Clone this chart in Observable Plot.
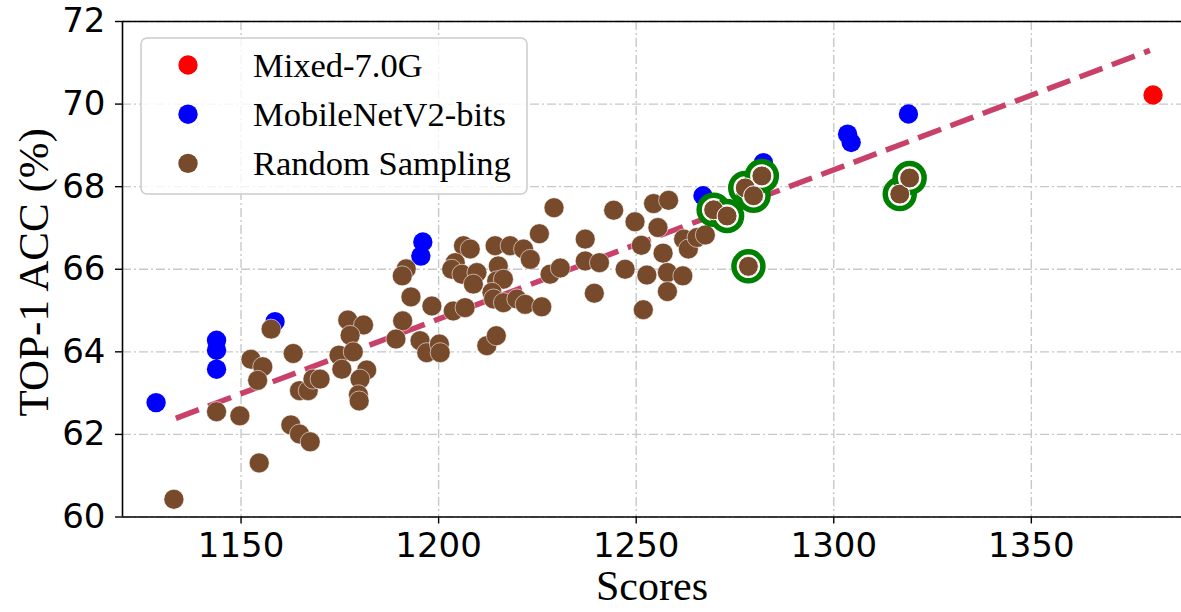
<!DOCTYPE html>
<html><head><meta charset="utf-8">
<script src="https://cdn.jsdelivr.net/npm/d3@7"></script>
<script src="https://cdn.jsdelivr.net/npm/@observablehq/plot@0.6"></script>
<style>body{margin:0;background:#fff} #chart{width:1181px;height:612px;overflow:hidden}</style>
</head><body><div id="chart"></div>
<script>
// ---- data ----
const seriesNames = ["Mixed-7.0G", "MobileNetV2-bits", "Random Sampling"];
const seriesColors = ["#ff0000", "#0000ff", "#784a2c"];

const mixedX = [1380.8];
const mixedY = [70.22];

const mbX = [1128.5, 1143.8, 1143.8, 1143.8, 1158.6, 1196.0, 1195.5, 1266.9, 1282.2, 1303.5, 1304.4, 1318.9];
const mbY = [62.77, 64.28, 64.04, 63.58, 64.73, 66.66, 66.32, 67.78, 68.58, 69.27, 69.07, 69.76];

const randX = [1133.0, 1143.8, 1149.7, 1154.6, 1152.5, 1155.5, 1154.2, 1157.6, 1163.2, 1164.8, 1167.0, 1168.2,
  1162.6, 1164.8, 1167.5, 1170.0, 1174.8, 1175.5, 1177.0, 1181.0, 1177.6, 1178.4, 1181.8, 1180.1, 1179.7, 1179.9,
  1190.9, 1189.2, 1193.0, 1191.8, 1190.8, 1198.3, 1195.3, 1197.0, 1200.2, 1200.4, 1203.7, 1206.7, 1206.3, 1208.0,
  1204.2, 1203.3, 1205.9, 1209.7, 1208.8, 1215.1, 1214.7, 1216.4, 1213.5, 1213.9, 1216.4, 1219.8, 1221.9, 1226.1,
  1214.3, 1218.1, 1221.5, 1223.2, 1225.5, 1229.2, 1228.2, 1230.8, 1212.2, 1214.6, 1244.3, 1254.4, 1258.2, 1249.7,
  1255.5, 1237.1, 1251.3, 1256.8, 1262.0, 1263.2, 1265.4, 1267.5, 1237.1, 1240.7, 1247.2, 1252.7, 1257.9, 1261.8,
  1239.4, 1257.9, 1251.8];
const randY = [60.43, 62.55, 62.45, 61.31, 63.82, 63.64, 63.31, 64.55, 63.96, 63.06, 63.06, 63.34,
  62.23, 62.01, 61.82, 63.34, 63.92, 63.58, 64.77, 64.65, 64.40, 64.00, 63.56, 63.34, 62.96, 62.81,
  64.75, 64.31, 65.33, 66.01, 65.84, 65.11, 64.27, 63.98, 64.19, 63.98, 64.99, 65.07, 66.57, 66.49,
  66.16, 66.00, 65.88, 65.92, 65.64, 66.08, 65.72, 65.76, 65.44, 65.28, 65.19, 65.28, 65.15, 65.09,
  66.57, 66.57, 66.49, 66.24, 66.86, 67.49, 65.88, 66.03, 64.15, 64.39, 67.43, 67.59, 67.67, 67.15,
  67.01, 66.73, 66.58, 66.39, 66.73, 66.49, 66.77, 66.83, 66.20, 66.16, 66.00, 65.86, 65.92, 65.84,
  65.42, 65.46, 65.02];

// highlighted (circled) random-sampling points
const selX = [1269.6, 1273.0, 1277.6, 1279.7, 1281.8, 1278.4, 1316.7, 1319.2];
const selY = [67.44, 67.29, 67.97, 67.78, 68.26, 66.07, 67.82, 68.21];

// dashed trend line end points
const trendX = [1133.5, 1380.0];
const trendY = [62.39, 71.30];

const xTicks = [1150, 1200, 1250, 1300, 1350];
const yTicks = [60, 62, 64, 66, 68, 70, 72];
const xLabel = "Scores";
const yLabel = "TOP-1 ACC (%)";

// ---- chart ----
const serif = "Liberation Serif, Times New Roman, serif";
const gridStyle = {stroke: "#c8c8c8", strokeOpacity: 1, strokeWidth: 1.4, strokeDasharray: "9,3,2,3"};
const pts = (X, Y) => X.map((x, i) => ({x, y: Y[i]}));

const chart = Plot.plot({
  width: 1181, height: 612,
  marginLeft: 122, marginRight: 0, marginTop: 21, marginBottom: 95.5,
  x: {domain: [1120, 1388]},
  y: {domain: [60, 72]},
  style: {background: "#fff", overflow: "visible"},
  marks: [
    Plot.gridX(xTicks, gridStyle),
    Plot.gridY(yTicks, gridStyle),
    Plot.line(pts(trendX, trendY), {x: "x", y: "y", stroke: "#c94168", strokeWidth: 5.5,
      strokeDasharray: "24.5,10", strokeLinecap: "butt"}),
    Plot.dot(pts(mbX, mbY), {x: "x", y: "y", r: 9.7, fill: seriesColors[1]}),
    Plot.dot(pts(mixedX, mixedY), {x: "x", y: "y", r: 9.7, fill: seriesColors[0]}),
    Plot.dot(pts(randX, randY), {x: "x", y: "y", r: 10, fill: seriesColors[2], stroke: "#fff", strokeWidth: 0.7, strokeOpacity: 0.8}),
    Plot.dot(pts(selX, selY), {x: "x", y: "y", r: 14.5, fill: "#fff", stroke: "#008000", strokeWidth: 5.5}),
    Plot.dot(pts(selX, selY), {x: "x", y: "y", r: 10, fill: seriesColors[2], stroke: "#fff", strokeWidth: 1}),
    Plot.ruleY([60, 72], {stroke: "#000", strokeWidth: 1.6}),
    Plot.ruleX([1120], {stroke: "#000", strokeWidth: 1.6}),
    Plot.axisX(xTicks, {tickSize: 7, tickPadding: 9, fontSize: 34, fontFamily: "DejaVu Sans",
      tickFormat: d => String(d), label: null, stroke: "#000", strokeWidth: 1.4, fill: "#000"}),
    Plot.axisY(yTicks, {tickSize: 7, tickPadding: 10, fontSize: 34, fontFamily: "DejaVu Sans",
      tickFormat: d => String(d), label: null, stroke: "#000", strokeWidth: 1.4, fill: "#000"}),
    Plot.text([xLabel], {frameAnchor: "bottom", dy: 82.5, lineAnchor: "bottom", textAnchor: "middle",
      fontSize: 42, fontFamily: serif, fill: "#000"}),
    Plot.text([yLabel], {frameAnchor: "left", rotate: -90, dx: -75, dy: 3, lineAnchor: "bottom",
      textAnchor: "middle", fontSize: 43, fontFamily: serif, fill: "#000"})
  ]
});

// ---- legend (inside the plot area, upper left) ----
const svg = d3.select(chart);
const lg = svg.append("g").attr("text-anchor", "start");
lg.append("rect").attr("x", 141).attr("y", 38).attr("width", 386).attr("height", 156)
  .attr("rx", 6).attr("fill", "#fff").attr("fill-opacity", 0.8)
  .attr("stroke", "#cccccc").attr("stroke-width", 1.5);
seriesNames.forEach((name, i) => {
  const cy = 65 + i * 49.2;
  lg.append("circle").attr("cx", 188).attr("cy", cy).attr("r", 9.7).attr("fill", seriesColors[i]);
  lg.append("text").attr("x", 253).attr("y", cy + 11.7).attr("text-anchor", "start").text(name)
    .attr("font-family", serif).attr("font-size", 34.5).attr("fill", "#000");
});

document.getElementById("chart").appendChild(chart);
</script>
</body></html>
